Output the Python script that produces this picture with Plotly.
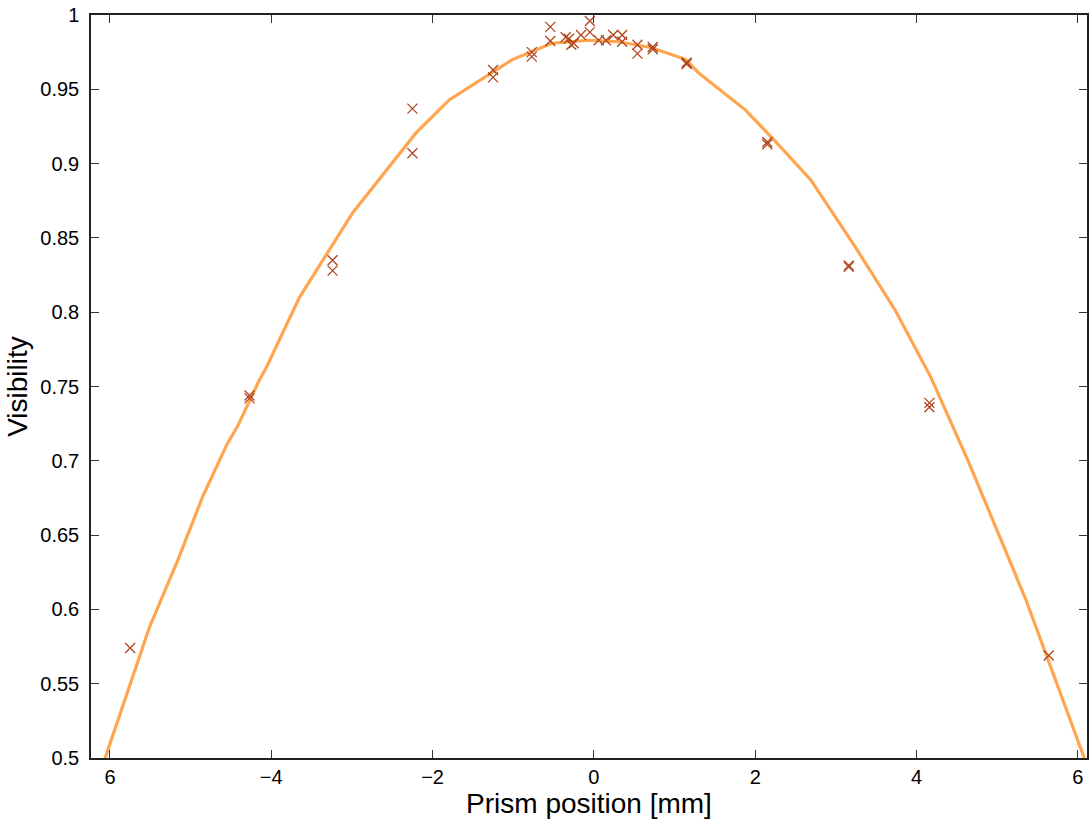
import plotly.graph_objects as go

# Measured data points (prism position in mm, visibility)
meas_x = [-5.75, -4.27, -4.27, -3.24, -3.24, -2.25, -2.25, -1.25, -1.25,
          -0.77, -0.77, -0.54, -0.54, -0.35, -0.31, -0.28, -0.25, -0.16,
          -0.05, -0.05, 0.06, 0.15, 0.24, 0.35, 0.35, 0.54, 0.54,
          0.73, 0.73, 1.15, 1.15, 2.15, 2.15, 3.16, 3.16, 4.16, 4.16, 5.64]
meas_y = [0.574, 0.744, 0.742, 0.835, 0.828, 0.937, 0.907, 0.963, 0.958,
          0.975, 0.972, 0.992, 0.9825, 0.985, 0.984, 0.980, 0.981, 0.9865,
          0.9960, 0.9885, 0.983, 0.983, 0.9865, 0.9865, 0.982, 0.980, 0.974,
          0.9785, 0.977, 0.968, 0.967, 0.9145, 0.913, 0.8315, 0.8305, 0.739, 0.736, 0.569]

# Fitted curve
fit_x = [-6.06, -5.51, -5.16, -4.85, -4.55, -4.42, -4.15, -4.06, -3.65, -2.99,
         -2.20, -1.79, -1.01, -0.52, -0.06, 0.31, 0.72, 1.14, 1.30, 1.88,
         2.25, 2.69, 3.24, 3.74, 4.18, 4.64, 5.36, 6.08]
fit_y = [0.500, 0.588, 0.633, 0.676, 0.711, 0.723, 0.754, 0.763, 0.810, 0.867,
         0.921, 0.943, 0.970, 0.981, 0.983, 0.982, 0.978, 0.970, 0.961, 0.936,
         0.915, 0.889, 0.844, 0.801, 0.756, 0.700, 0.606, 0.500]

x_tickvals = [-6, -4, -2, 0, 2, 4, 6]
x_ticktext = ["6", "\u22124", "\u22122", "0", "2", "4", "6"]
y_tickvals = [0.5, 0.55, 0.6, 0.65, 0.7, 0.75, 0.8, 0.85, 0.9, 0.95, 1.0]
y_ticktext = ["0.5", "0.55", "0.6", "0.65", "0.7", "0.75", "0.8", "0.85", "0.9", "0.95", "1"]

marker_color = "rgb(175,70,30)"

fig = go.Figure()
fig.add_trace(go.Scatter(
    x=fit_x, y=fit_y, mode="lines",
    line=dict(color="rgb(255,165,80)", width=3.2),
    hoverinfo="skip", showlegend=False,
))
fig.add_trace(go.Scatter(
    x=meas_x, y=meas_y, mode="markers",
    marker=dict(symbol="x-thin-open", size=10, color=marker_color,
                line=dict(color=marker_color, width=1.3)),
    showlegend=False,
))

font_family = "Liberation Sans, Arial, Helvetica, sans-serif"
fig.update_layout(
    width=1089, height=821,
    margin=dict(l=91, r=0, t=15, b=63),
    paper_bgcolor="white", plot_bgcolor="white",
    font=dict(family=font_family, color="black"),
    xaxis=dict(
        range=[-6.235, 6.114],
        tickvals=x_tickvals, ticktext=x_ticktext,
        ticks="inside", ticklen=8, tickwidth=1, tickcolor="#333",
        showline=True, linecolor="#222", linewidth=1.5, mirror="ticks",
        showgrid=False, zeroline=False,
        tickfont=dict(size=20, family=font_family),
        ticklabelstandoff=0,
        title=dict(text="Prism position [mm]", font=dict(size=28, family=font_family), standoff=2),
    ),
    yaxis=dict(
        range=[0.5, 1.0],
        tickvals=y_tickvals, ticktext=y_ticktext,
        ticks="inside", ticklen=8, tickwidth=1, tickcolor="#333",
        showline=True, linecolor="#222", linewidth=1.5, mirror="ticks",
        showgrid=False, zeroline=False,
        tickfont=dict(size=20, family=font_family),
        ticklabelstandoff=6,
        title=dict(text="Visibility", font=dict(size=28, family=font_family), standoff=5),
    ),
)

fig.write_html("out.html")
